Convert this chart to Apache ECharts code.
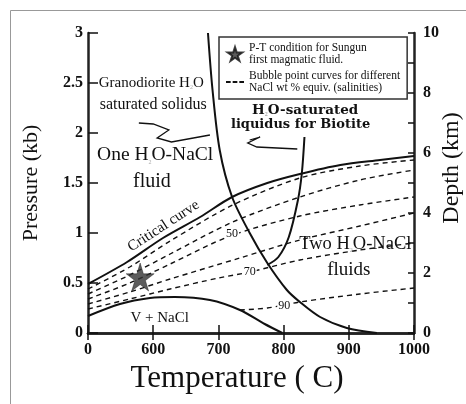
<!DOCTYPE html>
<html>
<head>
<meta charset="utf-8">
<title>H2O-NaCl P-T diagram</title>
<script src="https://cdn.jsdelivr.net/npm/echarts@6/dist/echarts.min.js"></script>
<style>
  html, body { margin: 0; padding: 0; background: #fff; }
  #main { width: 466px; height: 404px; }
</style>
</head>
<body>
<div id="main"></div>
<script>
// [temperature (C), pressure (kb)]
var criticalCurve = [[500,0.49],[560,0.71],[615,0.95],[672,1.16],[721,1.36],[775,1.50],[825,1.59],[887,1.68],[948,1.73],[1000,1.77]];
var vNaclCurve = [[500,0.17],[549,0.29],[595,0.35],[633,0.36],[687,0.33],[733,0.23],[771,0.09],[798,0]];
var solidusCurve = [[684,3.0],[691,2.43],[702,1.83],[721,1.36],[748,1.0],[775,0.70],[805,0.43],[825,0.31],[856,0.16],[897,0.05],[943,0]];
var biotiteCurve = [[832,1.96],[828,1.60],[822,1.33],[808,0.96],[792,0.76],[775,0.68]];

// bubble point curves (dashed), top to bottom
var bubble1 = [[500,0.44],[564,0.66],[626,0.92],[722,1.28],[825,1.55],[917,1.67],[1000,1.73]];
var bubble2 = [[500,0.39],[564,0.58],[626,0.79],[722,1.11],[825,1.36],[917,1.53],[1000,1.63]];
var bubble50 = [[500,0.34],[564,0.50],[626,0.69],[718,0.97],[825,1.17],[917,1.28],[1000,1.36]];
var bubble4 = [[500,0.29],[564,0.41],[626,0.54],[733,0.75],[825,0.93],[917,1.07],[1000,1.20]];
var bubble70 = [[500,0.24],[564,0.34],[626,0.44],[700,0.55],[748,0.61],[825,0.73],[917,0.83],[1000,0.90]];
var bubble90 = [[733,0.23],[775,0.25],[825,0.31],[917,0.39],[1000,0.45]];

var sungunPoint = [[580,0.56]];

// the two wiggly pointer arrows
var solidusArrow = [[578,2.10],[600,2.09],[624,2.03],[606,1.95],[628,1.91],[687,1.98]];
var biotiteArrow = [[748,1.93],[764,1.96],[745,1.90],[759,1.86],[821,1.84]];

// text in the plot: [T, P] and text
var noteTexts = ['Granodiorite H{s|2}O', 'saturated solidus', 'One H{s|2}O-NaCl', 'fluid',
                 'H{s|2}O-saturated', 'liquidus for Biotite', 'Critical curve',
                 '50', '70', '90', 'Two H{s|2}O-NaCl', 'fluids', 'V + NaCl'];
var notePos = [[597,2.50],[600,2.28],[603,1.78],[598,1.51],[833,2.23],[826,2.08],[616,1.07],
               [721,0.99],[748,0.61],[801,0.27],[910,0.89],[900,0.63],[610,0.15]];

var legendStar = 'P-T condition for Sungun\nfirst magmatic fluid.';
var legendBubble = 'Bubble point curves for different\nNaCl wt % equiv. (salinities)';

var ink = '#111';
var serif = 'Liberation Serif';
var starPath = 'path://M50,0 L61,35 L98,35 L68,57 L79,91 L50,70 L21,91 L32,57 L2,35 L39,35 Z';
var dashIcon = 'path://M0,0 h7 v3 h-7 z M10,0 h7 v3 h-7 z M20,0 h7 v3 h-7 z';

// label look for each text above
var noteStyles = [
  {fontSize: 15}, {fontSize: 16}, {fontSize: 19.5}, {fontSize: 20},
  {fontSize: 13.5, fontWeight: 'bold', fontFamily: 'DejaVu Serif'},
  {fontSize: 13, fontWeight: 'bold', fontFamily: 'DejaVu Serif'},
  {fontSize: 15, rotate: 33},
  {fontSize: 12, backgroundColor: '#fff', padding: [0, 1]},
  {fontSize: 12, backgroundColor: '#fff', padding: [0, 1]},
  {fontSize: 12, backgroundColor: '#fff', padding: [0, 1]},
  {fontSize: 18.5}, {fontSize: 19}, {fontSize: 15}
];

var notes = notePos.map(function (p, i) {
  var lab = {
    show: true, position: 'inside', formatter: noteTexts[i],
    color: ink, opacity: 1, textBorderWidth: 0, fontFamily: serif,
    rich: { s: { fontSize: 6, color: '#aaa', verticalAlign: 'bottom', fontFamily: serif } }
  };
  for (var k in noteStyles[i]) lab[k] = noteStyles[i][k];
  return { value: p, label: lab };
});

function solid(name, data, w) {
  return { name: name, type: 'line', data: data, smooth: 0.3, symbol: 'none',
           itemStyle: { color: ink }, lineStyle: { color: ink, width: w || 2 }, z: 3 };
}
function dashed(name, data) {
  return { name: name, type: 'line', data: data, smooth: 0.3, symbol: 'none',
           itemStyle: { color: ink }, lineStyle: { color: ink, width: 1.4, type: [5, 4] }, z: 2 };
}
function arrow(data) {
  return { type: 'lines', coordinateSystem: 'cartesian2d', polyline: true,
           symbol: ['none', 'arrow'], symbolSize: 6,
           lineStyle: { color: ink, width: 1.3, opacity: 1 },
           data: [{ coords: data }], z: 4 };
}

var axisFont = { fontFamily: serif, fontWeight: 'bold', fontSize: 16, color: ink };
var frame = { show: true, lineStyle: { color: '#222', width: 2.5 } };

var myChart = echarts.init(document.getElementById('main'));
var option = {
  backgroundColor: '#fff',
  animation: false,
  grid: { left: 88, right: 52, top: 33, bottom: 71, outerBoundsMode: 'none', containLabel: false },
  legend: {
    data: [{ name: legendStar, icon: starPath }, { name: legendBubble, icon: dashIcon }],
    orient: 'vertical', left: 219, top: 37, width: 191,
    padding: [5, 7, 5, 7], itemGap: 4, itemWidth: 18, itemHeight: 14,
    borderColor: '#333', borderWidth: 1.5, backgroundColor: '#fff',
    selectedMode: false,
    textStyle: { fontFamily: serif, fontSize: 11.5, lineHeight: 12, color: ink }
  },
  xAxis: [{
    type: 'value', min: 500, max: 1000, interval: 100,
    name: 'Temperature ( C)', nameLocation: 'middle', nameGap: 30, nameMoveOverlap: false,
    nameTextStyle: { fontFamily: serif, fontSize: 31, color: ink, padding: [0, 28, 0, 0] },
    axisLine: frame,
    axisTick: { inside: true, length: 8, lineStyle: { color: ink, width: 1.5 } },
    axisLabel: Object.assign({ margin: 9, formatter: function (v) { return v === 500 ? '0' : v; } }, axisFont),
    splitLine: { show: false }
  }, {
    type: 'value', min: 500, max: 1000, interval: 100, position: 'top',
    axisLine: frame,
    axisTick: { inside: true, length: 7, lineStyle: { color: ink, width: 1.5 } },
    axisLabel: { show: false }, splitLine: { show: false }
  }],
  yAxis: [{
    type: 'value', min: 0, max: 3, interval: 0.5,
    name: 'Pressure (kb)', nameLocation: 'middle', nameGap: 46, nameRotate: 90, nameMoveOverlap: false,
    nameTextStyle: { fontFamily: serif, fontSize: 22, color: ink },
    axisLine: frame,
    axisTick: { inside: true, length: 10, lineStyle: { color: ink, width: 1.5 } },
    axisLabel: Object.assign({ margin: 5 }, axisFont),
    splitLine: { show: false }
  }, {
    type: 'value', min: 0, max: 10, interval: 1, position: 'right',
    name: 'Depth (km)', nameLocation: 'middle', nameGap: 26, nameRotate: 90, nameMoveOverlap: false,
    nameTextStyle: { fontFamily: serif, fontSize: 24, color: ink, padding: [0, 0, 0, 30] },
    axisLine: frame,
    axisTick: { inside: true, length: 6, lineStyle: { color: ink, width: 1.5 } },
    axisLabel: Object.assign({ margin: 9, formatter: function (v) { return v % 2 === 0 ? v : ''; } }, axisFont),
    splitLine: { show: false }
  }],
  graphic: [{
    type: 'polyline', silent: true,
    shape: { points: [[10.5, 404], [10.5, 10.5], [466, 10.5]] },
    style: { stroke: '#999', lineWidth: 1, fill: null }
  }],
  series: [
    solid('critical', criticalCurve),
    solid('vnacl', vNaclCurve),
    solid('solidus', solidusCurve),
    solid('biotite', biotiteCurve),
    dashed(legendBubble, bubble1),
    dashed('b2', bubble2),
    dashed('b50', bubble50),
    dashed('b4', bubble4),
    dashed('b70', bubble70),
    dashed('b90', bubble90),
    arrow(solidusArrow),
    arrow(biotiteArrow),
    {
      name: legendStar, type: 'scatter', data: sungunPoint,
      symbol: starPath, symbolSize: 28,
      itemStyle: { color: '#333', borderColor: ink, borderWidth: 0.5 }, z: 5
    },
    {
      name: 'notes', type: 'scatter', data: notes, symbolSize: 1,
      itemStyle: { color: ink, opacity: 0 }, z: 6, silent: true
    }
  ]
};
myChart.setOption(option);
</script>
</body>
</html>
